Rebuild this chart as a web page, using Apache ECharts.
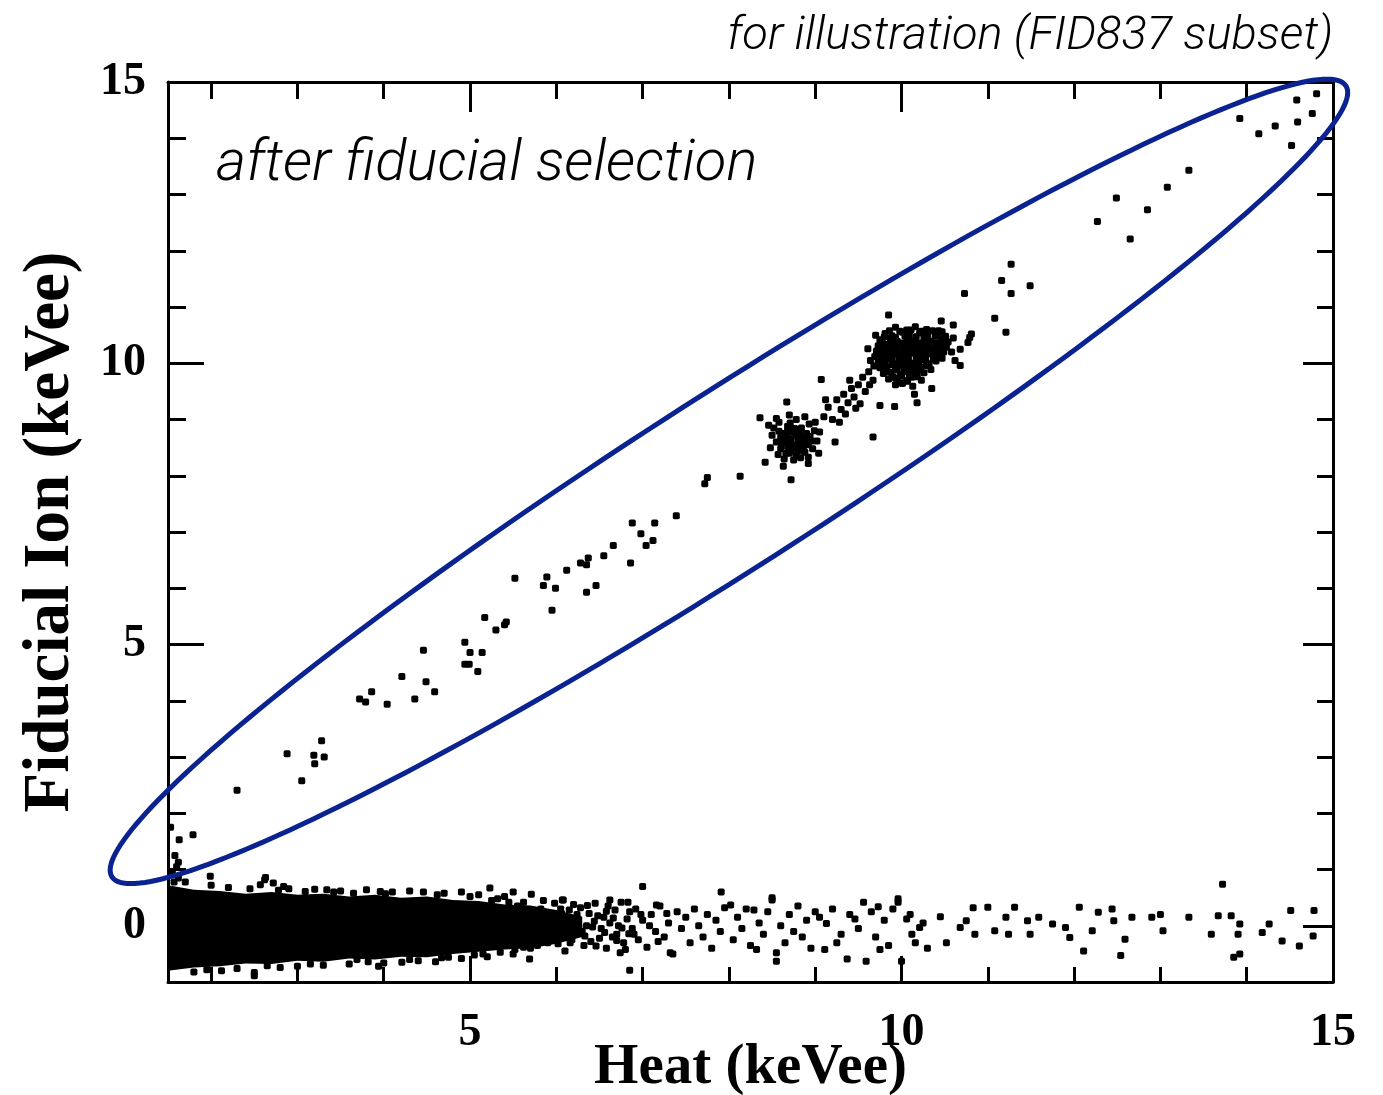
<!DOCTYPE html>
<html>
<head>
<meta charset="utf-8">
<script src="https://cdn.jsdelivr.net/npm/echarts@6/dist/echarts.min.js"></script>
<style>html,body{margin:0;padding:0;background:#fff}#c{width:1383px;height:1095px}</style>
</head>
<body>
<div id="c"></div>
<script>
// ---- Axis ticks ----
const xMajorTicks = [5, 10, 15];
const xMinorTicks = [2, 3, 4, 6, 7, 8, 9, 11, 12, 13, 14];
const yMajorTicks = [0, 5, 10, 15];
const yMinorTicks = [1, 2, 3, 4, 6, 7, 8, 9, 11, 12, 13, 14];

// ---- Fiducial events (ion ~ heat), [heat, ion] ----
const fiducialLow = [
  [1.53,1.75],[1.63,1.53],[1.79,1.62],[2.30,2.41],[2.88,3.06],[3.05,2.58],[3.19,3.03],[3.20,2.88],
  [3.28,3.29],[3.31,3.00],[3.72,4.03],[3.79,3.98],[3.86,4.16],[4.04,3.94],[4.21,4.43],[4.36,4.03],
  [4.46,4.90],[4.49,4.34],[4.59,4.16],[4.94,5.04],[5.00,4.86],[5.14,4.86],[4.94,4.65],[4.99,4.65],
  [5.09,4.52],[5.17,5.48],[5.30,5.26],[5.40,5.35],[5.42,5.40],[5.52,6.18],[5.85,6.05],[5.89,6.20],
  [5.99,6.00],[5.95,5.61],[6.12,6.32],[6.28,6.45],[6.35,6.42],[6.37,6.54],[6.46,6.05],[6.35,5.93],
  [6.55,6.58],[6.66,6.76],[6.86,6.45],[6.88,7.16],[6.98,6.97],[7.04,6.76],[7.12,6.85],[7.14,7.16],
  [7.39,7.29],[7.72,7.86],[7.75,7.97],[8.13,7.99]
];
const fiducialZnPeak = [
  [8.36,9.03],[8.42,8.24],[8.72,7.93],[8.63,8.17],[9.04,8.40],[9.23,8.60],[8.67,9.31],[9.07,9.71],
  [8.52,8.85],[8.58,8.95],[8.62,8.75],[8.68,8.88],[8.70,8.60],[8.74,8.78],[8.78,9.00],[8.80,8.68],
  [8.84,8.85],[8.86,8.52],[8.90,8.75],[8.93,8.92],[8.96,8.62],[8.99,8.80],[8.55,8.60],[8.60,8.48],
  [8.66,8.40],[8.72,8.45],[8.78,8.36],[8.82,8.50],[8.88,8.42],[8.92,8.33],[8.97,8.48],[9.02,8.62],
  [8.50,8.72],[8.57,8.38],[8.64,8.30],[8.75,8.28],[8.83,8.32],[9.05,8.78],[8.70,9.08],[8.88,9.05],
  [8.48,8.50],[9.00,8.95],[8.85,8.65],[8.65,8.65],[8.76,8.55],[8.92,8.22],[8.55,9.02],[8.46,8.90],
  [8.61,8.58],[8.79,8.82],[8.71,8.94],[8.94,8.70],[8.83,8.58],[8.68,8.52],[8.58,8.79],
  [8.66,8.70],[8.72,8.66],[8.78,8.72],[8.84,8.70],[8.70,8.78],[8.76,8.84],[8.82,8.78],[8.64,8.60],
  [8.74,8.50],[8.80,8.58],[8.86,8.60],[8.90,8.66],[8.68,8.80],[8.60,8.68],[8.92,8.55],[8.80,8.45],
  [8.70,8.40],[8.86,8.45]
];
const fiducialBridge = [
  [9.10,9.05],[9.15,9.22],[9.20,9.00],[9.25,9.35],[9.30,9.18],[9.33,9.45],[9.38,9.30],[9.42,9.55],
  [9.45,9.40],[9.50,9.62],[9.52,9.28],[9.55,9.75],[9.58,9.50],[9.62,9.85],[9.63,9.62],[9.67,9.70],
  [9.68,9.95],[9.12,9.35],[9.35,9.10],[9.47,9.20],[9.28,8.95],[9.40,9.70]
];
const fiducialGaPeak = [
  [9.93,10.64],[10.06,10.59],[10.16,10.65],[10.29,10.60],[10.43,10.58],
  [9.81,10.53],[9.89,10.49],[10.01,10.55],[10.09,10.50],[10.21,10.54],[10.30,10.49],[10.42,10.53],[10.51,10.48],
  [9.75,10.42],[9.87,10.44],[9.95,10.39],[10.07,10.45],[10.14,10.40],[10.26,10.44],[10.34,10.39],[10.46,10.43],[10.54,10.38],
  [9.73,10.31],[9.85,10.34],[9.93,10.30],[10.05,10.35],[10.12,10.29],[10.24,10.33],[10.32,10.28],[10.44,10.34],[10.52,10.29],
  [9.71,10.22],[9.83,10.24],[9.91,10.19],[10.03,10.25],[10.10,10.20],[10.22,10.23],[10.30,10.19],[10.42,10.24],[10.49,10.20],
  [9.69,10.12],[9.81,10.14],[9.89,10.09],[10.01,10.15],[10.08,10.10],[10.20,10.13],[10.28,10.09],[10.40,10.14],[10.47,10.09],
  [9.73,10.02],[9.81,10.04],[9.93,9.99],[10.01,10.05],[10.12,10.00],[10.20,10.03],[10.32,9.99],[10.40,10.04],
  [9.75,9.92],[9.83,9.94],[9.95,9.89],[10.03,9.95],[10.14,9.90],[10.22,9.93],[10.34,9.89],
  [9.79,9.82],[9.87,9.84],[9.99,9.79],[10.07,9.85],[10.18,9.80],[10.26,9.83],
  [9.85,9.72],[9.93,9.74],[10.05,9.69],[10.12,9.75],[10.23,9.70],
  [9.93,9.62],[10.01,9.64],[10.13,9.59],
  [9.86,10.58],[9.98,10.57],[10.11,10.59],[10.23,10.57],[10.36,10.58],[10.47,10.56],
  [9.80,10.47],[9.93,10.46],[10.04,10.48],[10.17,10.47],[10.27,10.46],[10.39,10.48],[10.50,10.45],
  [9.78,10.36],[9.90,10.38],[10.01,10.36],[10.10,10.37],[10.20,10.36],[10.31,10.38],[10.40,10.36],[10.50,10.35],
  [9.77,10.26],[9.88,10.28],[9.98,10.27],[10.08,10.26],[10.18,10.28],[10.27,10.26],[10.37,10.27],[10.47,10.25],
  [9.75,10.16],[9.86,10.18],[9.95,10.17],[10.05,10.16],[10.15,10.18],[10.25,10.16],[10.35,10.17],[10.44,10.15],
  [9.76,10.06],[9.87,10.08],[9.97,10.07],[10.07,10.06],[10.17,10.08],[10.27,10.06],[10.37,10.07],
  [9.79,9.96],[9.89,9.98],[9.99,9.97],[10.09,9.96],[10.19,9.98],[10.29,9.96],
  [9.82,9.86],[9.93,9.88],[10.03,9.87],[10.13,9.86],[10.22,9.88],
  [9.90,9.76],[10.00,9.78],[10.09,9.77],[10.18,9.76],
  [9.97,9.66],[10.07,9.68],
  [9.85,10.86],[10.46,10.75],[11.08,10.80],[10.81,10.52],[10.77,10.37],[10.68,10.25],[10.68,9.96],
  [9.61,10.26],[9.67,8.69],[9.75,9.25],[9.92,9.23],[10.18,9.30],[10.79,10.46],[10.60,10.68],
  [10.62,10.05],[9.70,10.50],[10.15,9.45],[10.35,9.55],[10.58,10.20],[10.60,10.45],[9.64,10.05]
];
const fiducialHigh = [
  [10.73,11.24],[11.21,10.55],[11.16,11.47],[11.27,11.24],[11.27,11.76],[11.49,11.38],[12.27,12.52],
  [12.65,12.21],[12.49,12.94],[12.85,12.73],[13.08,13.13],[13.33,13.43],[13.92,14.35],[14.14,14.08],
  [14.33,14.22],[14.52,13.87],[14.58,14.68],[14.59,14.29],[14.76,14.44],[14.81,14.79]
];

// ---- Heat-only band (ion ~ 0): dense envelope + individual events ----
const bandHeat = [1.5, 1.8, 2.1, 2.4, 2.7, 3.0, 3.3, 3.6, 3.9, 4.2, 4.5, 4.8, 5.1, 5.4, 5.7, 6.0, 6.3];
const bandTop  = [0.72, 0.64, 0.62, 0.57, 0.60, 0.55, 0.57, 0.52, 0.55, 0.50, 0.52, 0.46, 0.44, 0.38, 0.36, 0.28, 0.16];
const bandBot  = [-0.80, -0.74, -0.72, -0.67, -0.68, -0.62, -0.64, -0.58, -0.60, -0.55, -0.56, -0.50, -0.46, -0.42, -0.40, -0.32, -0.20];

const heatOnly = [
  [1.55,0.95],[1.60,1.05],[1.58,1.25],[1.62,0.85],[1.57,0.78],[1.62,1.13],
  [2.62,0.82],[2.72,0.76],[2.84,0.70],[2.57,0.73],[5.23,0.67],[4.46,0.60],[3.96,0.61],[5.71,0.56],
  [6.08,0.46],[3.34,0.64],[3.09,0.61],[1.99,0.88],[2.12,-0.80],[2.50,-0.89],[3.94,-0.72],[4.21,-0.65],
  [4.67,-0.57],[5.69,-0.59],[3.69,-0.60],[2.50,-0.83],[6.85,-0.79],[7.00,0.70],[2.63,0.86],
  [2.2,0.68],[2.9,0.66],[3.5,0.62],[3.8,0.64],[4.1,0.60],[4.3,0.62],[4.7,0.58],[4.9,0.60],[5.1,0.55],
  [5.4,0.52],[5.5,0.60],[1.7,0.78],[2.0,0.72],[3.2,0.65],
  [1.8,-0.82],[2.3,-0.76],[2.8,-0.74],[3.3,-0.70],[3.6,-0.68],[4.0,-0.66],[4.4,-0.62],[4.9,-0.58],
  [5.2,-0.55],[5.5,-0.50],[3.0,-0.72],[4.6,-0.64],
  [2.45,0.66],[2.78,0.63],[3.42,0.60],[3.65,0.58],[4.02,0.57],[4.62,0.55],[5.00,0.52],[5.32,0.48],
  [1.95,-0.78],[2.65,-0.71],[3.15,-0.68],[3.82,-0.64],[4.3,-0.60],[4.75,-0.56],[5.05,-0.52],[5.35,-0.47],
  [5.45,0.42],[5.52,-0.42],[5.25,0.45],[5.62,-0.38],[5.15,-0.50],
  [5.55,0.35],[5.6,-0.2],[5.65,0.1],[5.7,-0.4],[5.75,0.25],[5.8,-0.05],[5.85,0.45],[5.9,-0.3],[5.95,0.15],
  [6.0,-0.15],[6.05,0.3],[6.1,-0.45],[6.12,0.05],[6.18,-0.25],[6.2,0.38],[6.25,0.12],[6.3,-0.1],[6.32,-0.35],
  [6.38,0.22],[6.42,-0.02],[6.45,0.4],[6.5,-0.22],[6.55,0.15],[6.58,-0.4],[6.62,0.05],[6.68,0.28],[6.7,-0.15],
  [6.75,0.42],[6.78,-0.3],[6.82,0.12],[6.88,-0.05],[6.92,0.3],[6.95,-0.25],[7.0,0.1],[7.05,-0.38],[7.1,0.2],
  [7.15,-0.1],[7.2,0.35],[7.25,-0.2],[7.3,0.05],[7.35,-0.5],[7.4,0.25],[7.45,-0.05],[7.5,0.15],[7.55,-0.3],
  [7.6,0.3],[7.65,0.0],[7.7,-0.2],[7.75,0.2],[7.8,-0.4],[7.85,0.1],[7.9,-0.1],[7.95,0.32],[8.05,-0.25],
  [8.1,0.15],[8.15,-0.05],[8.2,0.3],[8.25,-0.35],[8.35,0.05],[8.4,-0.15],[8.45,0.25],[8.6,0.0],[8.65,-0.3],
  [8.7,0.2],[8.75,-0.1],[8.8,0.35],[8.85,-0.2],[8.9,0.1],[8.95,-0.4],[9.05,0.15],[9.2,0.3],[9.3,-0.15],
  [9.4,0.2],[9.5,-0.05],[9.65,0.25],[9.7,-0.2],[9.8,0.1],[9.85,-0.35],[9.9,0.3],[10.1,0.2],[10.12,-0.15],
  [10.25,0.05],[10.3,-0.4],
  [5.58,0.05],[5.62,0.42],[5.68,-0.25],[5.72,0.18],[5.78,-0.35],[5.82,0.3],[5.88,0.0],[5.92,-0.18],[5.98,0.4],
  [6.02,-0.32],[6.08,0.12],[6.15,0.28],[6.22,-0.08],[6.28,0.32],[6.35,0.0],[6.4,-0.28],[6.48,0.18],[6.52,-0.05],
  [6.6,0.35],[6.65,-0.2],[6.72,0.0],[6.8,-0.42],[6.85,0.25],[6.9,-0.15],[6.98,0.2],[7.08,0.0],[7.18,-0.28],[7.28,0.22],
  [6.04,0.02],[6.14,-0.12],[6.24,0.2],[6.33,-0.18],[6.44,0.08],[6.56,-0.12],[6.66,0.14],[6.76,-0.04],
  [6.06,0.22],[6.16,-0.3],[6.26,-0.02],[6.36,0.36],[6.46,-0.36],[6.58,0.26],[6.70,-0.26],[6.84,-0.14],
  [6.07,0.46],[6.62,0.46],[6.83,0.42],[7.16,0.37],[6.74,-0.48],[7.32,-0.48],[7.91,0.60],[8.02,0.37],
  [8.29,0.28],[8.50,0.46],[8.55,-0.63],[8.55,-0.48],[8.32,-0.42],[9.00,0.25],[9.13,0.04],[9.11,-0.42],
  [9.25,-0.30],[9.37,-0.59],[9.56,0.42],[9.46,0.12],[9.59,-0.63],[9.75,-0.42],[9.73,0.34],[9.96,0.42],
  [10.00,-0.63],[10.16,-0.30],[10.21,-0.03],[10.06,0.12],[10.45,0.16],[10.52,-0.30],[10.68,-0.03],
  [10.75,0.09],[10.83,0.32],[8.50,0.50],[9.96,0.48],[10.85,-0.15],[11.00,0.33],[11.08,-0.09],[11.21,0.15],
  [11.24,-0.15],[11.31,0.33],[11.46,0.09],[11.49,-0.15],[11.59,0.15],[11.75,0.03],[11.90,-0.03],
  [11.95,-0.21],[12.06,0.33],[12.11,-0.45],[12.21,-0.09],[12.28,0.24],[12.44,0.30],[12.46,0.09],
  [12.54,-0.53],[12.59,-0.24],[12.67,0.15],[12.90,0.15],[13.00,0.20],[13.03,-0.09],[13.33,0.15],
  [13.59,-0.15],[13.67,0.18],[13.72,0.74],[13.82,0.18],[13.85,-0.56],[13.92,-0.50],[13.92,0.03],
  [13.90,-0.15],[14.18,-0.12],[14.26,0.03],[14.41,-0.27],[14.51,0.27],[14.61,-0.36],[14.78,0.27],[14.77,-0.18]
];

// ---- Selection ellipse (drawn annotation), data coords ----
const ellipseCenter = [8.0, 7.90];
const ellipseMajorEnd = [15.15, 14.93];
const ellipseMinorEnd = [8.54, 6.59];

const serif = '"Liberation Serif", "Times New Roman", serif';
const sans = 'Roboto, "Helvetica Neue", Arial, sans-serif';

const chart = echarts.init(document.getElementById('c'), null, {renderer: 'canvas'});

function xAx(pos, ticks, len, showLine, showLabels, extra) {
  return Object.assign({
    type: 'value', position: pos, min: 1.5, max: 15,
    axisLine: {show: showLine, onZero: false, lineStyle: {color: '#000', width: 3}},
    axisTick: {show: true, inside: true, length: len, customValues: ticks, lineStyle: {color: '#000', width: 3}},
    axisLabel: showLabels ? {show: true, customValues: ticks, fontFamily: serif, fontWeight: 'bold', fontSize: 46, color: '#000', margin: 28} : {show: false},
    splitLine: {show: false}
  }, extra || {});
}
function yAx(pos, ticks, len, showLine, showLabels, extra) {
  return Object.assign({
    type: 'value', position: pos, min: -1, max: 15,
    axisLine: {show: showLine, onZero: false, lineStyle: {color: '#000', width: 3}},
    axisTick: {show: true, inside: true, length: len, customValues: ticks, lineStyle: {color: '#000', width: 3}},
    axisLabel: showLabels ? {show: true, customValues: ticks, fontFamily: serif, fontWeight: 'bold', fontSize: 46, color: '#000', margin: 22} : {show: false},
    splitLine: {show: false}
  }, extra || {});
}

function scatter(name, data) {
  return {name, type: 'scatter', data, symbol: 'roundRect', symbolSize: 7, itemStyle: {color: '#000', opacity: 1},
          xAxisIndex: 0, yAxisIndex: 0, silent: true, animation: false, z: 3};
}

chart.setOption({
  animation: false,
  backgroundColor: '#fff',
  title: [
    {text: 'for illustration (FID837 subset)', right: 50, top: 14, padding: 0,
     textStyle: {fontFamily: sans, fontStyle: 'italic', fontWeight: 300, fontSize: 47, color: '#000'}},
    {text: 'after fiducial selection', left: 216, top: 136, padding: 0,
     textStyle: {fontFamily: sans, fontStyle: 'italic', fontWeight: 300, fontSize: 58, color: '#000'}}
  ],
  grid: {left: 168, right: 50, top: 82, bottom: 113, containLabel: false, outerBoundsMode: 'none', show: false},
  xAxis: [
    xAx('bottom', xMajorTicks, 26, true, true, {
      name: 'Heat (keVee)', nameLocation: 'middle', nameGap: 58, nameMoveOverlap: false,
      nameTextStyle: {fontFamily: serif, fontWeight: 'bold', fontSize: 57, color: '#000'}}),
    xAx('bottom', xMinorTicks, 15, false, false),
    xAx('top', xMajorTicks, 30, true, false),
    xAx('top', xMinorTicks, 17, false, false)
  ],
  yAxis: [
    yAx('left', yMajorTicks, 36, true, true, {
      name: 'Fiducial Ion (keVee)', nameLocation: 'middle', nameGap: 84, nameMoveOverlap: false,
      nameTextStyle: {fontFamily: serif, fontWeight: 'bold', fontSize: 65, color: '#000'}}),
    yAx('left', yMinorTicks, 18, false, false),
    yAx('right', yMajorTicks, 30, true, false),
    yAx('right', yMinorTicks, 16, false, false)
  ],
  series: [
    {
      type: 'custom', name: 'heat-only band', xAxisIndex: 0, yAxisIndex: 0, silent: true, z: 2,
      data: [0],
      renderItem: function (params, api) {
        const pts = [];
        for (let i = 0; i < bandHeat.length; i++) pts.push(api.coord([bandHeat[i], bandTop[i]]));
        for (let i = bandHeat.length - 1; i >= 0; i--) pts.push(api.coord([bandHeat[i], bandBot[i]]));
        return {type: 'polygon', shape: {points: pts}, style: {fill: '#000'}};
      }
    },
    scatter('heat-only', heatOnly),
    scatter('fiducial low', fiducialLow),
    scatter('Zn', fiducialZnPeak),
    scatter('bridge', fiducialBridge),
    scatter('Ga', fiducialGaPeak),
    scatter('high', fiducialHigh),
    {
      type: 'custom', name: 'selection', xAxisIndex: 0, yAxisIndex: 0, silent: true, z: 10, clip: false,
      data: [0],
      renderItem: function (params, api) {
        const c = api.coord(ellipseCenter), a = api.coord(ellipseMajorEnd), b = api.coord(ellipseMinorEnd);
        const ux = a[0] - c[0], uy = a[1] - c[1], vx = b[0] - c[0], vy = b[1] - c[1];
        const pts = [];
        for (let k = 0; k < 240; k++) {
          const t = k / 240 * Math.PI * 2;
          pts.push([c[0] + Math.cos(t) * ux + Math.sin(t) * vx, c[1] + Math.cos(t) * uy + Math.sin(t) * vy]);
        }
        return {type: 'polygon', shape: {points: pts}, style: {fill: 'none', stroke: '#0a2391', lineWidth: 5}};
      }
    }
  ]
});
</script>
</body>
</html>
